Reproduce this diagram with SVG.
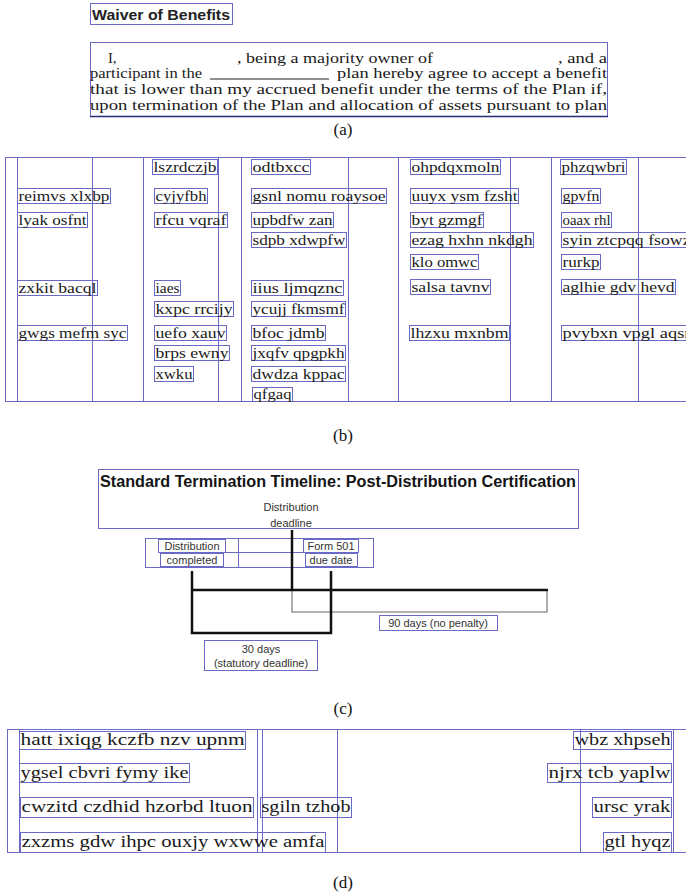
<svg xmlns="http://www.w3.org/2000/svg" width="686" height="893" viewBox="0 0 686 893">
<style>
.bx{fill:none;stroke:#6a6ac6;stroke-width:1}
.ln{stroke:#6a6ac6;stroke-width:1;fill:none}
.ser{font-family:"Liberation Serif","DejaVu Serif",serif;fill:#1a1a1a}
.t14{font-size:14px}
.t16{font-size:16px}
.t15{font-size:14.5px}
.cap{font-family:"Liberation Serif",serif;font-size:17px;fill:#111;text-anchor:middle}
.sans{font-family:"Liberation Sans",Arial,sans-serif}
.sm{font-family:"Liberation Sans",Arial,sans-serif;font-size:11px;fill:#333}
.blk{stroke:#111;stroke-width:2.5;fill:none}
.gry{stroke:#999;stroke-width:1.6;fill:none}
</style>
<rect width="686" height="893" fill="#fff"/>

<!-- (a) -->
<g id="a-title">
<rect class="bx" x="90.5" y="3.5" width="142" height="21" fill="#f4f4fa"/>
<text class="sans" x="92" y="20" font-size="15" font-weight="bold" fill="#222" textLength="138" lengthAdjust="spacingAndGlyphs">Waiver of Benefits</text>
</g>
<g id="a-paragraph">
<rect class="bx" x="90.5" y="42.5" width="517" height="74"/>
<line x1="90" y1="116.5" x2="608" y2="116.5" stroke="#2a2a7a" stroke-width="1.5"/>
<text class="ser t15" x="108" y="63">I,</text>
<text class="ser t15" x="237" y="63" textLength="196" lengthAdjust="spacingAndGlyphs">, being a majority owner of</text>
<text class="ser t15" x="558" y="63" textLength="49" lengthAdjust="spacingAndGlyphs">, and a</text>
<text class="ser t15" x="90" y="78" textLength="112" lengthAdjust="spacingAndGlyphs">participant in the</text>
<line x1="210" y1="79" x2="329" y2="79" stroke="#222" stroke-width="1"/>
<text class="ser t15" x="337" y="78" textLength="270" lengthAdjust="spacingAndGlyphs">plan hereby agree to accept a benefit</text>
<text class="ser t15" x="90" y="94" textLength="517" lengthAdjust="spacingAndGlyphs">that is lower than my accrued benefit under the terms of the Plan if,</text>
<text class="ser t15" x="90" y="110" textLength="517" lengthAdjust="spacingAndGlyphs">upon termination of the Plan and allocation of assets pursuant to plan</text>
</g>
<text class="cap" x="343" y="135">(a)</text>

<!-- (b) -->
<g id="b-grid">
<line class="ln" x1="5" y1="157.5" x2="686" y2="157.5"/>
<line class="ln" x1="5" y1="401.5" x2="686" y2="401.5"/>
<line class="ln" x1="5.5" y1="157" x2="5.5" y2="402"/>
<line class="ln" x1="17.5" y1="157" x2="17.5" y2="402"/>
<line class="ln" x1="92.5" y1="157" x2="92.5" y2="402"/>
<line class="ln" x1="143.5" y1="157" x2="143.5" y2="402"/>
<line class="ln" x1="218.5" y1="157" x2="218.5" y2="402"/>
<line class="ln" x1="241.5" y1="157" x2="241.5" y2="402"/>
<line class="ln" x1="348.5" y1="157" x2="348.5" y2="402"/>
<line class="ln" x1="398.5" y1="157" x2="398.5" y2="402"/>
<line class="ln" x1="510.5" y1="157" x2="510.5" y2="402"/>
<line class="ln" x1="551.5" y1="157" x2="551.5" y2="402"/>
<line class="ln" x1="638.5" y1="157" x2="638.5" y2="402"/>
</g>
<g id="b-words" class="ser t14">
<rect class="bx" x="152.5" y="159.5" width="65" height="15"/><text x="153.5" y="171.5" textLength="63" lengthAdjust="spacingAndGlyphs">lszrdczjb</text>
<rect class="bx" x="251.5" y="159.5" width="59" height="15"/><text x="252.5" y="171.5" textLength="57" lengthAdjust="spacingAndGlyphs">odtbxcc</text>
<rect class="bx" x="410.5" y="159.5" width="90" height="15"/><text x="411.5" y="171.5" textLength="88" lengthAdjust="spacingAndGlyphs">ohpdqxmoln</text>
<rect class="bx" x="560.5" y="159.5" width="66" height="15"/><text x="561.5" y="171.5" textLength="64" lengthAdjust="spacingAndGlyphs">phzqwbri</text>

<rect class="bx" x="17.5" y="188.5" width="93" height="15"/><text x="18.5" y="200.5" textLength="91" lengthAdjust="spacingAndGlyphs">reimvs xlxbp</text>
<rect class="bx" x="154.5" y="188.5" width="53" height="15"/><text x="155.5" y="200.5" textLength="51" lengthAdjust="spacingAndGlyphs">cyjyfbh</text>
<rect class="bx" x="251.5" y="188.5" width="135" height="15"/><text x="252.5" y="200.5" textLength="133" lengthAdjust="spacingAndGlyphs">gsnl nomu roaysoe</text>
<rect class="bx" x="410.5" y="188.5" width="108" height="15"/><text x="411.5" y="200.5" textLength="106" lengthAdjust="spacingAndGlyphs">uuyx ysm fzsht</text>
<rect class="bx" x="561.5" y="188.5" width="39" height="15"/><text x="562.5" y="200.5" textLength="37" lengthAdjust="spacingAndGlyphs">gpvfn</text>

<rect class="bx" x="17.5" y="212.5" width="70" height="15"/><text x="18.5" y="224.5" textLength="68" lengthAdjust="spacingAndGlyphs">lyak osfnt</text>
<rect class="bx" x="154.5" y="212.5" width="73" height="15"/><text x="155.5" y="224.5" textLength="71" lengthAdjust="spacingAndGlyphs">rfcu vqraf</text>
<rect class="bx" x="251.5" y="212.5" width="82" height="15"/><text x="252.5" y="224.5" textLength="80" lengthAdjust="spacingAndGlyphs">upbdfw zan</text>
<rect class="bx" x="410.5" y="212.5" width="73" height="15"/><text x="411.5" y="224.5" textLength="71" lengthAdjust="spacingAndGlyphs">byt gzmgf</text>
<rect class="bx" x="561.5" y="212.5" width="50" height="15"/><text x="562.5" y="224.5" textLength="48" lengthAdjust="spacingAndGlyphs">oaax rhl</text>

<rect class="bx" x="251.5" y="232.5" width="95" height="15"/><text x="252.5" y="244.5" textLength="93" lengthAdjust="spacingAndGlyphs">sdpb xdwpfw</text>
<rect class="bx" x="410.5" y="232.5" width="123" height="15"/><text x="411.5" y="244.5" textLength="121" lengthAdjust="spacingAndGlyphs">ezag hxhn nkdgh</text>
<rect class="bx" x="561.5" y="232.5" width="130" height="15"/><text x="562.5" y="244.5" textLength="128" lengthAdjust="spacingAndGlyphs">syin ztcpqq fsowz</text>

<rect class="bx" x="410.5" y="254.5" width="68" height="15"/><text x="411.5" y="266.5" textLength="66" lengthAdjust="spacingAndGlyphs">klo omwc</text>
<rect class="bx" x="561.5" y="254.5" width="39" height="15"/><text x="562.5" y="266.5" textLength="37" lengthAdjust="spacingAndGlyphs">rurkp</text>

<rect class="bx" x="17.5" y="280.5" width="80" height="15"/><text x="18.5" y="292.5" textLength="78" lengthAdjust="spacingAndGlyphs">zxkit bacql</text>
<rect class="bx" x="154.5" y="280.5" width="26" height="15"/><text x="155.5" y="292.5" textLength="24" lengthAdjust="spacingAndGlyphs">iaes</text>
<rect class="bx" x="251.5" y="280.5" width="92" height="15"/><text x="252.5" y="292.5" textLength="90" lengthAdjust="spacingAndGlyphs">iius ljmqznc</text>
<rect class="bx" x="410.5" y="279.5" width="80" height="15"/><text x="411.5" y="291.5" textLength="78" lengthAdjust="spacingAndGlyphs">salsa tavnv</text>
<rect class="bx" x="561.5" y="279.5" width="114" height="15"/><text x="562.5" y="291.5" textLength="112" lengthAdjust="spacingAndGlyphs">aglhie gdv hevd</text>

<rect class="bx" x="154.5" y="301.5" width="79" height="15"/><text x="155.5" y="313.5" textLength="77" lengthAdjust="spacingAndGlyphs">kxpc rrcijy</text>
<rect class="bx" x="251.5" y="301.5" width="94" height="15"/><text x="252.5" y="313.5" textLength="92" lengthAdjust="spacingAndGlyphs">ycujj fkmsmf</text>

<rect class="bx" x="17.5" y="325.5" width="110" height="15"/><text x="18.5" y="337.5" textLength="108" lengthAdjust="spacingAndGlyphs">gwgs mefm syc</text>
<rect class="bx" x="154.5" y="325.5" width="72" height="15"/><text x="155.5" y="337.5" textLength="70" lengthAdjust="spacingAndGlyphs">uefo xauv</text>
<rect class="bx" x="251.5" y="325.5" width="74" height="15"/><text x="252.5" y="337.5" textLength="72" lengthAdjust="spacingAndGlyphs">bfoc jdmb</text>
<rect class="bx" x="409.5" y="325.5" width="100" height="15"/><text x="410.5" y="337.5" textLength="98" lengthAdjust="spacingAndGlyphs">lhzxu mxnbm</text>
<rect class="bx" x="561.5" y="325.5" width="130" height="15"/><text x="562.5" y="337.5" textLength="128" lengthAdjust="spacingAndGlyphs">pvybxn vpgl aqsr</text>

<rect class="bx" x="154.5" y="345.5" width="75" height="15"/><text x="155.5" y="357.5" textLength="73" lengthAdjust="spacingAndGlyphs">brps ewny</text>
<rect class="bx" x="251.5" y="345.5" width="94" height="15"/><text x="252.5" y="357.5" textLength="92" lengthAdjust="spacingAndGlyphs">jxqfv qpgpkh</text>

<rect class="bx" x="154.5" y="366.5" width="39" height="15"/><text x="155.5" y="378.5" textLength="37" lengthAdjust="spacingAndGlyphs">xwku</text>
<rect class="bx" x="251.5" y="366.5" width="94" height="15"/><text x="252.5" y="378.5" textLength="92" lengthAdjust="spacingAndGlyphs">dwdza kppac</text>

<rect class="bx" x="252.5" y="387.5" width="40" height="14"/><text x="253.5" y="399" textLength="38" lengthAdjust="spacingAndGlyphs">qfgaq</text>
</g>
<text class="cap" x="343" y="441">(b)</text>

<!-- (c) -->
<g id="c-title">
<rect class="bx" x="98.5" y="469.5" width="480" height="59"/>
<text class="sans" x="100" y="487" font-size="16" font-weight="bold" fill="#151515" textLength="476" lengthAdjust="spacingAndGlyphs">Standard Termination Timeline: Post-Distribution Certification</text>
<text class="sm" x="291" y="511" text-anchor="middle">Distribution</text>
<text class="sm" x="291" y="527" text-anchor="middle">deadline</text>
</g>
<g id="c-table">
<rect class="bx" x="145.5" y="538.5" width="228" height="29"/>
<line class="ln" x1="238.5" y1="538" x2="238.5" y2="568"/>
<line class="ln" x1="225.5" y1="552.5" x2="303" y2="552.5"/>
<rect class="bx" x="158.5" y="539.5" width="67" height="13"/>
<rect class="bx" x="160.5" y="553.5" width="63" height="13"/>
<text class="sm" x="192" y="550" text-anchor="middle" font-size="10.5">Distribution</text>
<text class="sm" x="192" y="564" text-anchor="middle" font-size="10.5">completed</text>
<rect class="bx" x="303.5" y="539.5" width="55" height="13"/>
<rect class="bx" x="305.5" y="553.5" width="52" height="13"/>
<text class="sm" x="331" y="550" text-anchor="middle" font-size="10.5">Form 501</text>
<text class="sm" x="331" y="564" text-anchor="middle" font-size="10.5">due date</text>
</g>
<g id="connectors">
<polyline class="gry" points="292,590 292,612 547,612 547,590"/>
<line class="blk" x1="292" y1="530" x2="292" y2="591"/>
<line class="blk" x1="191" y1="590" x2="548" y2="590"/>
<polyline class="blk" points="192,571 192,633 331,633 331,571"/>
</g>
<g id="c-label-90">
<rect class="bx" x="379.5" y="615.5" width="118" height="15"/>
<text class="sm" x="438" y="627" text-anchor="middle">90 days (no penalty)</text>
</g>
<g id="c-label-30">
<rect class="bx" x="204.5" y="640.5" width="113" height="30"/>
<text class="sm" x="261" y="653" text-anchor="middle">30 days</text>
<text class="sm" x="261" y="667" text-anchor="middle">(statutory deadline)</text>
</g>
<text class="cap" x="343" y="714">(c)</text>

<!-- (d) -->
<g id="d-grid">
<line class="ln" x1="7" y1="729.5" x2="686" y2="729.5"/>
<line class="ln" x1="7" y1="852.5" x2="686" y2="852.5"/>
<line class="ln" x1="7.5" y1="729" x2="7.5" y2="853"/>
<line class="ln" x1="19.5" y1="729" x2="19.5" y2="853"/>
<line class="ln" x1="257.5" y1="729" x2="257.5" y2="853"/>
<line class="ln" x1="262.5" y1="729" x2="262.5" y2="853"/>
<line class="ln" x1="337.5" y1="729" x2="337.5" y2="853"/>
<line class="ln" x1="580.5" y1="729" x2="580.5" y2="853"/>
<line class="ln" x1="673.5" y1="729" x2="673.5" y2="853"/>
</g>
<g id="d-words" class="ser t16">
<rect class="bx" x="19.5" y="731.5" width="226" height="18"/><text x="20.5" y="745" textLength="224" lengthAdjust="spacingAndGlyphs">hatt ixiqg kczfb nzv upnm</text>
<rect class="bx" x="573.5" y="731.5" width="98" height="18"/><text x="574.5" y="745" textLength="96" lengthAdjust="spacingAndGlyphs">wbz xhpseh</text>
<rect class="bx" x="19.5" y="763.5" width="170" height="19"/><text x="20.5" y="778" textLength="168" lengthAdjust="spacingAndGlyphs">ygsel cbvri fymy ike</text>
<rect class="bx" x="547.5" y="763.5" width="124" height="19"/><text x="548.5" y="778" textLength="122" lengthAdjust="spacingAndGlyphs">njrx tcb yaplw</text>
<rect class="bx" x="20.5" y="797.5" width="233" height="20"/><text x="21.5" y="812" textLength="231" lengthAdjust="spacingAndGlyphs">cwzitd czdhid hzorbd ltuon</text>
<rect class="bx" x="260.5" y="797.5" width="91" height="20"/><text x="261.5" y="812" textLength="89" lengthAdjust="spacingAndGlyphs">sgiln tzhob</text>
<rect class="bx" x="592.5" y="797.5" width="79" height="20"/><text x="593.5" y="812" textLength="77" lengthAdjust="spacingAndGlyphs">ursc yrak</text>
<rect class="bx" x="20.5" y="832.5" width="305" height="20"/><text x="21.5" y="847" textLength="303" lengthAdjust="spacingAndGlyphs">zxzms gdw ihpc ouxjy wxwwe amfa</text>
<rect class="bx" x="603.5" y="832.5" width="68" height="20"/><text x="604.5" y="847" textLength="66" lengthAdjust="spacingAndGlyphs">gtl hyqz</text>
</g>
<text class="cap" x="343" y="888">(d)</text>
</svg>
